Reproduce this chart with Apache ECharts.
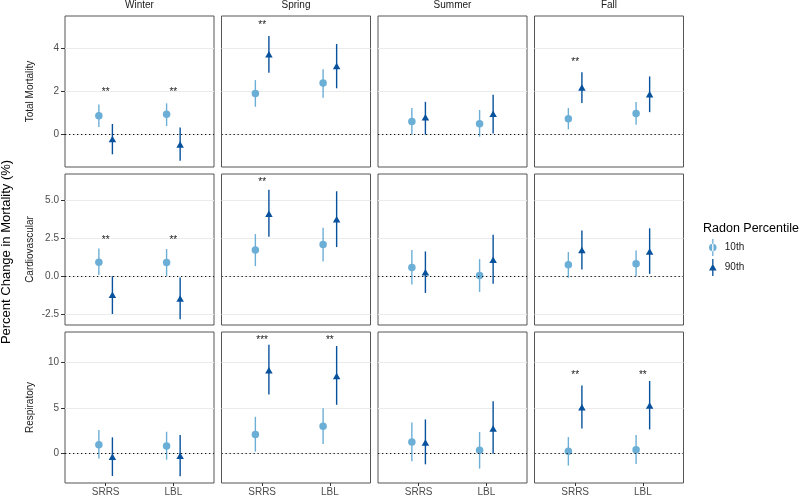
<!DOCTYPE html>
<html><head><meta charset="utf-8">
<script src="https://cdn.jsdelivr.net/npm/echarts@6/dist/echarts.min.js"></script>
<style>html,body{margin:0;padding:0;background:#fff}#c{width:800px;height:497px}</style>
</head><body><div id="c"></div>
<script>
// ---------------- DATA ----------------
const seasons = ['Winter', 'Spring', 'Summer', 'Fall'];
const outcomes = ['Total Mortality', 'Cardiovascular', 'Respiratory'];
const sources = ['SRRS', 'LBL'];
const percentiles = ['10th', '90th'];

// order in each array: Winter SRRS, Winter LBL, Spring SRRS, Spring LBL, Summer SRRS, Summer LBL, Fall SRRS, Fall LBL
const totalEst10 = [0.88, 0.95, 1.92, 2.40, 0.62, 0.51, 0.74, 0.99];
const totalLo10  = [0.36, 0.40, 1.30, 1.72, 0.00, -0.09, 0.25, 0.47];
const totalHi10  = [1.40, 1.46, 2.54, 3.05, 1.24, 1.15, 1.24, 1.52];
const totalEst90 = [-0.20, -0.45, 3.74, 3.19, 0.81, 0.98, 2.20, 1.88];
const totalLo90  = [-0.91, -1.21, 2.88, 2.16, 0.00, 0.06, 1.47, 1.05];
const totalHi90  = [0.50, 0.34, 4.59, 4.22, 1.53, 1.86, 2.91, 2.71];

const cardioEst10 = [0.92, 0.90, 1.71, 2.08, 0.57, 0.04, 0.75, 0.81];
const cardioLo10  = [0.07, 0.02, 0.66, 0.96, -0.55, -1.03, -0.11, 0.00];
const cardioHi10  = [1.82, 1.78, 2.76, 3.18, 1.71, 1.12, 1.58, 1.69];
const cardioEst90 = [-1.21, -1.47, 4.10, 3.73, 0.26, 1.07, 1.71, 1.62];
const cardioLo90  = [-2.48, -2.83, 2.59, 1.91, -1.10, -0.50, 0.44, 0.15];
const cardioHi90  = [0.00, -0.09, 5.66, 5.57, 1.62, 2.72, 3.00, 3.14];

const respEst10 = [0.98, 0.83, 2.10, 3.00, 1.27, 0.36, 0.25, 0.43];
const respLo10  = [-0.54, -0.65, 0.22, 1.05, -0.83, -1.63, -1.30, -1.12];
const respHi10  = [2.57, 2.39, 4.02, 4.96, 3.41, 2.36, 1.81, 2.03];
const respEst90 = [-0.33, -0.22, 9.09, 8.48, 1.23, 2.75, 5.07, 5.25];
const respLo90  = [-2.43, -2.46, 6.45, 5.33, -1.16, 0.00, 2.75, 2.64];
const respHi90  = [1.78, 2.03, 11.88, 11.74, 3.73, 5.72, 7.43, 7.93];

// significance stars (same order), and the height they are drawn at
const totalStars  = ['**', '**', '**', '', '', '', '**', ''];
const totalStarY  = [2.08, 2.08, 5.18, null, null, null, 3.47, null];
const cardioStars = ['**', '**', '**', '', '', '', '', ''];
const cardioStarY = [2.50, 2.50, 6.29, null, null, null, null, null];
const respStars   = ['', '', '***', '**', '', '', '**', '**'];
const respStarY   = [null, null, 12.64, 12.64, null, null, 8.73, 8.73];

// y-axis ranges and tick labels per row
const rowMin = [-1.5, -3.2, -3.2];
const rowMax = [5.52, 6.7, 13.27];
const totalTicks = [0, 2, 4];
const cardioTicks = [-2.5, 0, 2.5, 5];
const respTicks = [0, 5, 10];

// ---------------- BUILD ----------------
const est = [[totalEst10, totalEst90], [cardioEst10, cardioEst90], [respEst10, respEst90]];
const lo  = [[totalLo10, totalLo90], [cardioLo10, cardioLo90], [respLo10, respLo90]];
const hi  = [[totalHi10, totalHi90], [cardioHi10, cardioHi90], [respHi10, respHi90]];
const stars = [totalStars, cardioStars, respStars];
const starY = [totalStarY, cardioStarY, respStarY];
const rowTicks = [totalTicks, cardioTicks, respTicks];
const rowDecimals = [0, 1, 0];

const colors = ['#6baed6', '#08519c'];
const FONT = 'Liberation Sans, Arial, sans-serif';
const dodge = 0.1;
const gLeft = 65, gStep = 156.5, gW = 149, gTop = 16, gVStep = 158, gH = 151;

const grids = [], xAxes = [], yAxes = [], series = [], graphics = [];

for (let r = 0; r < 3; r++) {
  for (let c = 0; c < 4; c++) {
    const g = r * 4 + c;
    grids.push({
      left: gLeft + c * gStep, top: gTop + r * gVStep, width: gW, height: gH,
      show: true, borderColor: '#555', borderWidth: 1, backgroundColor: 'transparent'
    });
    xAxes.push({
      gridIndex: g, type: 'value', min: 0.4, max: 2.6, position: 'bottom',
      axisLine: { show: false, onZero: false }, splitLine: { show: false },
      axisTick: { show: r === 2, customValues: [1, 2], length: 3, lineStyle: { color: '#333' } },
      axisLabel: {
        show: r === 2, customValues: [1, 2], margin: 4,
        formatter: v => sources[Math.round(v) - 1] || '',
        fontFamily: FONT, fontSize: 10, color: '#4d4d4d'
      }
    });
    const dec = rowDecimals[r];
    yAxes.push({
      gridIndex: g, type: 'value', min: rowMin[r], max: rowMax[r], position: 'left',
      axisLine: { show: false, onZero: false },
      axisTick: { show: c === 0, customValues: rowTicks[r], length: 4, lineStyle: { color: '#333' } },
      axisLabel: {
        show: c === 0, customValues: rowTicks[r], margin: 6,
        formatter: v => v.toFixed(dec), fontFamily: FONT, fontSize: 10, color: '#4d4d4d'
      },
      splitLine: { show: true, lineStyle: { color: '#ebebeb', width: 1 } },
      name: c === 0 ? outcomes[r] : '', nameLocation: 'middle', nameRotate: 90, nameGap: 30,
      nameTextStyle: { fontFamily: FONT, fontSize: 10, color: '#1a1a1a' }
    });

    for (let p = 0; p < 2; p++) {
      const off = p === 0 ? -dodge : dodge;
      const barData = sources.map((s, i) => [i + 1 + off, lo[r][p][c * 2 + i], hi[r][p][c * 2 + i]]);
      const ptData = sources.map((s, i) => [i + 1 + off, est[r][p][c * 2 + i]]);
      const col = colors[p];
      series.push({
        type: 'custom', name: percentiles[p] + ' CI', xAxisIndex: g, yAxisIndex: g, z: 3,
        silent: true,
        encode: { x: 0, y: [1, 2] },
        data: barData,
        renderItem: (params, api) => {
          const x = api.value(0);
          const a = api.coord([x, api.value(1)]);
          const b = api.coord([x, api.value(2)]);
          return { type: 'line', shape: { x1: a[0], y1: a[1], x2: b[0], y2: b[1] },
                   style: { stroke: col, lineWidth: 1.4 } };
        }
      });
      const sc = {
        type: 'scatter', name: percentiles[p], xAxisIndex: g, yAxisIndex: g, z: 4,
        symbol: p === 0 ? 'circle' : 'triangle',
        symbolSize: p === 0 ? 7.5 : [7.5, 6.5],
        itemStyle: { color: col, opacity: 1 },
        data: ptData, silent: true
      };
      if (p === 0) {
        sc.markLine = {
          silent: true, symbol: 'none', label: { show: false }, animation: false,
          lineStyle: { type: [1.3, 2.7], color: '#111', width: 1.1 },
          data: [{ yAxis: 0 }]
        };
      }
      series.push(sc);
    }

    // stars
    const sData = [];
    const sLabels = [];
    for (let i = 0; i < 2; i++) {
      const k = c * 2 + i;
      if (stars[r][k]) { sData.push([i + 1, starY[r][k]]); sLabels.push(stars[r][k]); }
    }
    if (sData.length) {
      series.push({
        type: 'custom', name: 'stars', xAxisIndex: g, yAxisIndex: g, z: 5, silent: true,
        data: sData,
        renderItem: (params, api) => {
          const pt = api.coord([api.value(0), api.value(1)]);
          return { type: 'text', x: pt[0], y: pt[1] + 2,
                   style: { text: sLabels[params.dataIndex], textAlign: 'center', textVerticalAlign: 'middle',
                            fontFamily: FONT, fontSize: 10, fill: '#1a1a1a' } };
        }
      });
    }
  }
}

// column strip labels
seasons.forEach((s, c) => {
  graphics.push({
    type: 'text', x: gLeft + c * gStep + gW / 2, y: 5,
    style: { text: s, textAlign: 'center', textVerticalAlign: 'middle', fontFamily: FONT, fontSize: 10, fill: '#1a1a1a' }
  });
});
// overall y title
graphics.push({
  type: 'text', x: 6, y: 252, rotation: Math.PI / 2,
  style: { text: 'Percent Change in Mortality (%)', textAlign: 'center', textVerticalAlign: 'middle',
           fontFamily: FONT, fontSize: 13, fill: '#000' }
});
// legend title
graphics.push({
  type: 'text', x: 703, y: 229,
  style: { text: 'Radon Percentile', textAlign: 'left', textVerticalAlign: 'middle',
           fontFamily: FONT, fontSize: 12.5, fill: '#000' }
});

const icon10 = 'path://M4.35,0h1.3v17h-1.3Z M1.2,8.5a3.8,3.8 0 1,0 7.6,0a3.8,3.8 0 1,0 -7.6,0Z';
const icon90 = 'path://M4.35,0h1.3v17h-1.3Z M5,4.8L8.8,11.4H1.2Z';

const option = {
  animation: false,
  backgroundColor: '#fff',
  grid: grids, xAxis: xAxes, yAxis: yAxes, series: series,
  graphic: graphics,
  legend: {
    orient: 'vertical', left: 709, top: 239, padding: 0, itemWidth: 8, itemHeight: 17, itemGap: 3,
    selectedMode: false,
    textStyle: { fontFamily: FONT, fontSize: 10, color: '#1a1a1a', padding: [0, 0, 0, 3] },
    data: [{ name: '10th', icon: icon10 }, { name: '90th', icon: icon90 }]
  }
};

const chart = echarts.init(document.getElementById('c'), null, { renderer: 'canvas' });
chart.setOption(option);
</script></body></html>
